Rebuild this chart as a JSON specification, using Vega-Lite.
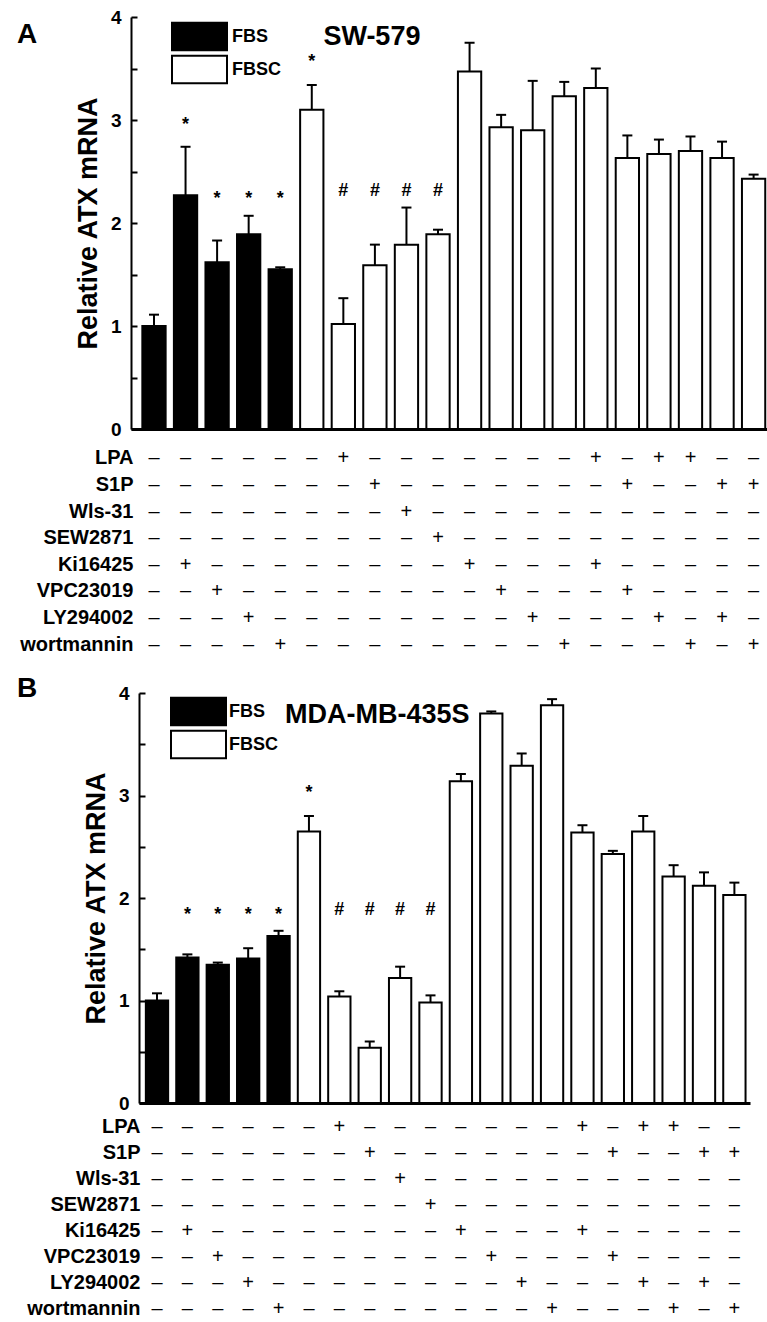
{
  "$schema": "https://vega.github.io/schema/vega-lite/v6.json",
  "background": "white",
  "padding": {"left": 17, "top": 8, "right": 0, "bottom": 0},
  "bounds": "flush",
  "spacing": 0,
  "resolve": {"scale": {"fill": "independent"}, "legend": {"fill": "independent"}},
  "config": {"view": {"stroke": null}, "axis": {"grid": false}, "font": "Liberation Sans"},
  "datasets": {
    "A": [
      {"bar": 0, "serum": "FBS", "value": 1.00, "upper": 1.11},
      {"bar": 1, "serum": "FBS", "value": 2.27, "upper": 2.74, "sig": "*", "sigY": 2.95},
      {"bar": 2, "serum": "FBS", "value": 1.62, "upper": 1.83, "sig": "*", "sigY": 2.23},
      {"bar": 3, "serum": "FBS", "value": 1.89, "upper": 2.07, "sig": "*", "sigY": 2.23},
      {"bar": 4, "serum": "FBS", "value": 1.55, "upper": 1.57, "sig": "*", "sigY": 2.23},
      {"bar": 5, "serum": "FBSC", "value": 3.10, "upper": 3.34, "sig": "*", "sigY": 3.56},
      {"bar": 6, "serum": "FBSC", "value": 1.02, "upper": 1.27, "sig": "#", "sigY": 2.31},
      {"bar": 7, "serum": "FBSC", "value": 1.59, "upper": 1.79, "sig": "#", "sigY": 2.31},
      {"bar": 8, "serum": "FBSC", "value": 1.79, "upper": 2.15, "sig": "#", "sigY": 2.31},
      {"bar": 9, "serum": "FBSC", "value": 1.89, "upper": 1.935, "sig": "#", "sigY": 2.31},
      {"bar": 10, "serum": "FBSC", "value": 3.47, "upper": 3.75},
      {"bar": 11, "serum": "FBSC", "value": 2.93, "upper": 3.05},
      {"bar": 12, "serum": "FBSC", "value": 2.90, "upper": 3.38},
      {"bar": 13, "serum": "FBSC", "value": 3.23, "upper": 3.37},
      {"bar": 14, "serum": "FBSC", "value": 3.31, "upper": 3.50},
      {"bar": 15, "serum": "FBSC", "value": 2.63, "upper": 2.85},
      {"bar": 16, "serum": "FBSC", "value": 2.67, "upper": 2.81},
      {"bar": 17, "serum": "FBSC", "value": 2.70, "upper": 2.84},
      {"bar": 18, "serum": "FBSC", "value": 2.63, "upper": 2.79},
      {"bar": 19, "serum": "FBSC", "value": 2.43, "upper": 2.47}
    ],
    "B": [
      {"bar": 0, "serum": "FBS", "value": 1.00, "upper": 1.07},
      {"bar": 1, "serum": "FBS", "value": 1.42, "upper": 1.45, "sig": "*", "sigY": 1.83},
      {"bar": 2, "serum": "FBS", "value": 1.35, "upper": 1.37, "sig": "*", "sigY": 1.83},
      {"bar": 3, "serum": "FBS", "value": 1.41, "upper": 1.51, "sig": "*", "sigY": 1.83},
      {"bar": 4, "serum": "FBS", "value": 1.63, "upper": 1.68, "sig": "*", "sigY": 1.83},
      {"bar": 5, "serum": "FBSC", "value": 2.65, "upper": 2.80, "sig": "*", "sigY": 3.02},
      {"bar": 6, "serum": "FBSC", "value": 1.04, "upper": 1.09, "sig": "#", "sigY": 1.88},
      {"bar": 7, "serum": "FBSC", "value": 0.54, "upper": 0.60, "sig": "#", "sigY": 1.88},
      {"bar": 8, "serum": "FBSC", "value": 1.22, "upper": 1.33, "sig": "#", "sigY": 1.88},
      {"bar": 9, "serum": "FBSC", "value": 0.98, "upper": 1.05, "sig": "#", "sigY": 1.88},
      {"bar": 10, "serum": "FBSC", "value": 3.14, "upper": 3.21},
      {"bar": 11, "serum": "FBSC", "value": 3.80, "upper": 3.82},
      {"bar": 12, "serum": "FBSC", "value": 3.29, "upper": 3.41},
      {"bar": 13, "serum": "FBSC", "value": 3.88, "upper": 3.94},
      {"bar": 14, "serum": "FBSC", "value": 2.64, "upper": 2.71},
      {"bar": 15, "serum": "FBSC", "value": 2.43, "upper": 2.46},
      {"bar": 16, "serum": "FBSC", "value": 2.65, "upper": 2.80},
      {"bar": 17, "serum": "FBSC", "value": 2.21, "upper": 2.32},
      {"bar": 18, "serum": "FBSC", "value": 2.12, "upper": 2.25},
      {"bar": 19, "serum": "FBSC", "value": 2.03, "upper": 2.15}
    ],
    "T": [
      {"bar": 0, "LPA": "–", "S1P": "–", "Wls-31": "–", "SEW2871": "–", "Ki16425": "–", "VPC23019": "–", "LY294002": "–", "wortmannin": "–"},
      {"bar": 1, "LPA": "–", "S1P": "–", "Wls-31": "–", "SEW2871": "–", "Ki16425": "+", "VPC23019": "–", "LY294002": "–", "wortmannin": "–"},
      {"bar": 2, "LPA": "–", "S1P": "–", "Wls-31": "–", "SEW2871": "–", "Ki16425": "–", "VPC23019": "+", "LY294002": "–", "wortmannin": "–"},
      {"bar": 3, "LPA": "–", "S1P": "–", "Wls-31": "–", "SEW2871": "–", "Ki16425": "–", "VPC23019": "–", "LY294002": "+", "wortmannin": "–"},
      {"bar": 4, "LPA": "–", "S1P": "–", "Wls-31": "–", "SEW2871": "–", "Ki16425": "–", "VPC23019": "–", "LY294002": "–", "wortmannin": "+"},
      {"bar": 5, "LPA": "–", "S1P": "–", "Wls-31": "–", "SEW2871": "–", "Ki16425": "–", "VPC23019": "–", "LY294002": "–", "wortmannin": "–"},
      {"bar": 6, "LPA": "+", "S1P": "–", "Wls-31": "–", "SEW2871": "–", "Ki16425": "–", "VPC23019": "–", "LY294002": "–", "wortmannin": "–"},
      {"bar": 7, "LPA": "–", "S1P": "+", "Wls-31": "–", "SEW2871": "–", "Ki16425": "–", "VPC23019": "–", "LY294002": "–", "wortmannin": "–"},
      {"bar": 8, "LPA": "–", "S1P": "–", "Wls-31": "+", "SEW2871": "–", "Ki16425": "–", "VPC23019": "–", "LY294002": "–", "wortmannin": "–"},
      {"bar": 9, "LPA": "–", "S1P": "–", "Wls-31": "–", "SEW2871": "+", "Ki16425": "–", "VPC23019": "–", "LY294002": "–", "wortmannin": "–"},
      {"bar": 10, "LPA": "–", "S1P": "–", "Wls-31": "–", "SEW2871": "–", "Ki16425": "+", "VPC23019": "–", "LY294002": "–", "wortmannin": "–"},
      {"bar": 11, "LPA": "–", "S1P": "–", "Wls-31": "–", "SEW2871": "–", "Ki16425": "–", "VPC23019": "+", "LY294002": "–", "wortmannin": "–"},
      {"bar": 12, "LPA": "–", "S1P": "–", "Wls-31": "–", "SEW2871": "–", "Ki16425": "–", "VPC23019": "–", "LY294002": "+", "wortmannin": "–"},
      {"bar": 13, "LPA": "–", "S1P": "–", "Wls-31": "–", "SEW2871": "–", "Ki16425": "–", "VPC23019": "–", "LY294002": "–", "wortmannin": "+"},
      {"bar": 14, "LPA": "+", "S1P": "–", "Wls-31": "–", "SEW2871": "–", "Ki16425": "+", "VPC23019": "–", "LY294002": "–", "wortmannin": "–"},
      {"bar": 15, "LPA": "–", "S1P": "+", "Wls-31": "–", "SEW2871": "–", "Ki16425": "–", "VPC23019": "+", "LY294002": "–", "wortmannin": "–"},
      {"bar": 16, "LPA": "+", "S1P": "–", "Wls-31": "–", "SEW2871": "–", "Ki16425": "–", "VPC23019": "–", "LY294002": "+", "wortmannin": "–"},
      {"bar": 17, "LPA": "+", "S1P": "–", "Wls-31": "–", "SEW2871": "–", "Ki16425": "–", "VPC23019": "–", "LY294002": "–", "wortmannin": "+"},
      {"bar": 18, "LPA": "–", "S1P": "+", "Wls-31": "–", "SEW2871": "–", "Ki16425": "–", "VPC23019": "–", "LY294002": "+", "wortmannin": "–"},
      {"bar": 19, "LPA": "–", "S1P": "+", "Wls-31": "–", "SEW2871": "–", "Ki16425": "–", "VPC23019": "–", "LY294002": "–", "wortmannin": "+"}
    ]
  },
  "vconcat": [
    {
      "width": 636,
      "height": 412,
      "title": {"text": "A", "anchor": "start", "frame": "group", "orient": "top", "dx": -114, "offset": -63.4, "baseline": "alphabetic", "fontSize": 28, "fontWeight": "bold", "font": "Liberation Sans", "color": "black"},
      "encoding": {
        "x": {
          "field": "bar", "type": "ordinal",
          "scale": {"type": "band", "domain": [0,1,2,3,4,5,6,7,8,9,10,11,12,13,14,15,16,17,18,19], "range": [0, 636], "paddingInner": 0.262, "paddingOuter": 0.2075, "align": 0.866},
          "axis": {"title": null, "labels": false, "ticks": false, "domain": true, "domainColor": "black", "domainWidth": 2.8, "grid": false}
        }
      },
      "layer": [
        {
          "data": {"name": "A"},
          "mark": {"type": "bar", "stroke": "black", "strokeWidth": 2},
          "encoding": {
            "y": {
              "field": "value", "type": "quantitative", "title": "Relative ATX mRNA",
              "scale": {"domain": [0, 4], "nice": false},
              "axis": {
                "title": "Relative ATX mRNA", "titleFont": "Liberation Sans", "titleFontSize": 27, "titleFontWeight": "bold", "titleColor": "black", "titlePadding": 8,
                "values": [0, 0.5, 1, 1.5, 2, 2.5, 3, 3.5, 4],
                "labelExpr": "datum.value % 1 === 0 ? format(datum.value, 'd') : ''",
                "labelFont": "Liberation Sans", "labelFontSize": 19, "labelFontWeight": "bold", "labelColor": "black", "labelPadding": 16,
                "labelFlush": false, "labelOverlap": false,
                "tickSize": -6,
                "tickWidth": 2, "tickColor": "black", "domainColor": "black", "domainWidth": 2, "grid": false
              }
            },
            "fill": {
              "field": "serum", "type": "nominal",
              "scale": {"domain": ["FBS", "FBSC"], "range": ["#000000", "#ffffff"]},
              "legend": {"title": null, "orient": "none", "legendX": 40, "legendY": 4, "padding": 0, "rowPadding": 2, "clipHeight": 31, "symbolType": "M-1,-0.5H1V0.5H-1Z", "symbolSize": 3025, "symbolStrokeColor": "black", "symbolStrokeWidth": 2, "symbolOpacity": 1, "labelFont": "Liberation Sans", "labelFontSize": 18, "labelFontWeight": "bold", "labelColor": "black", "labelOffset": 4}
            }
          }
        },
        {
          "data": {"name": "A"},
          "mark": {"type": "rule", "stroke": "black", "strokeWidth": 2},
          "encoding": {
            "y": {"field": "value", "type": "quantitative", "title": "Relative ATX mRNA", "scale": {"domain": [0, 4], "nice": false}},
            "y2": {"field": "upper"}
          }
        },
        {
          "data": {"name": "A"},
          "mark": {"type": "tick", "color": "black", "thickness": 2, "size": 10, "opacity": 1},
          "encoding": {
            "y": {"field": "upper", "type": "quantitative", "title": "Relative ATX mRNA", "scale": {"domain": [0, 4], "nice": false}}
          }
        },
        {
          "data": {"name": "A"},
          "transform": [{"filter": "datum.sig != null"}],
          "mark": {"type": "text", "font": "Liberation Sans", "fontSize": 18, "fontWeight": "bold", "color": "black", "baseline": "middle"},
          "encoding": {
            "y": {"field": "sigY", "type": "quantitative", "title": "Relative ATX mRNA", "scale": {"domain": [0, 4], "nice": false}},
            "text": {"field": "sig"}
          }
        },
        {
          "data": {"values": [{"bar": 5, "name": "SW-579", "pos": 3.73}]},
          "mark": {"type": "text", "align": "left", "baseline": "alphabetic", "font": "Liberation Sans", "fontSize": 27, "fontWeight": "bold", "color": "black"},
          "encoding": {
            "x": {"field": "bar", "type": "ordinal", "bandPosition": 1},
            "y": {"field": "pos", "type": "quantitative", "title": "Relative ATX mRNA", "scale": {"domain": [0, 4], "nice": false}},
            "text": {"field": "name"}
          }
        }
      ]
    },
    {
      "width": 636,
      "height": 264,
      "data": {"name": "T"},
      "transform": [{"fold": ["LPA", "S1P", "Wls-31", "SEW2871", "Ki16425", "VPC23019", "LY294002", "wortmannin"], "as": ["agent", "sign"]}],
      "mark": {"type": "text", "font": "Liberation Sans", "fontSize": 20, "color": "black", "baseline": "middle"},
      "encoding": {
        "x": {
          "field": "bar", "type": "ordinal",
          "scale": {"type": "band", "domain": [0,1,2,3,4,5,6,7,8,9,10,11,12,13,14,15,16,17,18,19], "range": [0, 636], "paddingInner": 0.262, "paddingOuter": 0.2075, "align": 0.866},
          "axis": null
        },
        "y": {
          "field": "agent", "type": "nominal",
          "scale": {"type": "band", "domain": ["LPA", "S1P", "Wls-31", "SEW2871", "Ki16425", "VPC23019", "LY294002", "wortmannin"], "range": [16.2, 228.8], "paddingInner": 0, "paddingOuter": 0},
          "axis": {"title": null, "domain": false, "ticks": false, "labelPadding": -2, "labelFont": "Liberation Sans", "labelFontSize": 20, "labelFontWeight": "bold", "labelColor": "black", "grid": false}
        },
        "text": {"field": "sign"}
      }
    },
    {
      "width": 619,
      "height": 410,
      "title": {"text": "B", "anchor": "start", "frame": "group", "orient": "top", "dx": -114, "offset": -41, "baseline": "alphabetic", "fontSize": 28, "fontWeight": "bold", "font": "Liberation Sans", "color": "black"},
      "encoding": {
        "x": {
          "field": "bar", "type": "ordinal",
          "scale": {"type": "band", "domain": [0,1,2,3,4,5,6,7,8,9,10,11,12,13,14,15,16,17,18,19], "range": [8, 619], "paddingInner": 0.266, "paddingOuter": 0.186, "align": 0.606},
          "axis": {"title": null, "labels": false, "ticks": false, "domain": true, "domainColor": "black", "domainWidth": 2.8, "grid": false}
        }
      },
      "layer": [
        {
          "data": {"name": "B"},
          "mark": {"type": "bar", "stroke": "black", "strokeWidth": 2},
          "encoding": {
            "y": {
              "field": "value", "type": "quantitative", "title": "Relative ATX mRNA",
              "scale": {"domain": [0, 4], "nice": false},
              "axis": {
                "offset": -8,
                "title": "Relative ATX mRNA", "titleFont": "Liberation Sans", "titleFontSize": 27, "titleFontWeight": "bold", "titleColor": "black", "titlePadding": 8,
                "values": [0, 0.5, 1, 1.5, 2, 2.5, 3, 3.5, 4],
                "labelExpr": "datum.value % 1 === 0 ? format(datum.value, 'd') : ''",
                "labelFont": "Liberation Sans", "labelFontSize": 19, "labelFontWeight": "bold", "labelColor": "black", "labelPadding": 16,
                "labelFlush": false, "labelOverlap": false,
                "tickSize": -6,
                "tickWidth": 2, "tickColor": "black", "domainColor": "black", "domainWidth": 2, "grid": false
              }
            },
            "fill": {
              "field": "serum", "type": "nominal",
              "scale": {"domain": ["FBS", "FBSC"], "range": ["#000000", "#ffffff"]},
              "legend": {"title": null, "orient": "none", "legendX": 39, "legendY": 3, "padding": 0, "rowPadding": 2, "clipHeight": 31, "symbolType": "M-1,-0.5H1V0.5H-1Z", "symbolSize": 3025, "symbolStrokeColor": "black", "symbolStrokeWidth": 2, "symbolOpacity": 1, "labelFont": "Liberation Sans", "labelFontSize": 18, "labelFontWeight": "bold", "labelColor": "black", "labelOffset": 2}
            }
          }
        },
        {
          "data": {"name": "B"},
          "mark": {"type": "rule", "stroke": "black", "strokeWidth": 2},
          "encoding": {
            "y": {"field": "value", "type": "quantitative", "title": "Relative ATX mRNA", "scale": {"domain": [0, 4], "nice": false}},
            "y2": {"field": "upper"}
          }
        },
        {
          "data": {"name": "B"},
          "mark": {"type": "tick", "color": "black", "thickness": 2, "size": 10, "opacity": 1},
          "encoding": {
            "y": {"field": "upper", "type": "quantitative", "title": "Relative ATX mRNA", "scale": {"domain": [0, 4], "nice": false}}
          }
        },
        {
          "data": {"name": "B"},
          "transform": [{"filter": "datum.sig != null"}],
          "mark": {"type": "text", "font": "Liberation Sans", "fontSize": 18, "fontWeight": "bold", "color": "black", "baseline": "middle"},
          "encoding": {
            "y": {"field": "sigY", "type": "quantitative", "title": "Relative ATX mRNA", "scale": {"domain": [0, 4], "nice": false}},
            "text": {"field": "sig"}
          }
        },
        {
          "data": {"values": [{"bar": 4, "name": "MDA-MB-435S", "pos": 3.71}]},
          "mark": {"type": "text", "align": "left", "baseline": "alphabetic", "font": "Liberation Sans", "fontSize": 27, "fontWeight": "bold", "color": "black"},
          "encoding": {
            "x": {"field": "bar", "type": "ordinal", "bandPosition": 0.79},
            "y": {"field": "pos", "type": "quantitative", "title": "Relative ATX mRNA", "scale": {"domain": [0, 4], "nice": false}},
            "text": {"field": "name"}
          }
        }
      ]
    },
    {
      "width": 619,
      "height": 218.6,
      "data": {"name": "T"},
      "transform": [{"fold": ["LPA", "S1P", "Wls-31", "SEW2871", "Ki16425", "VPC23019", "LY294002", "wortmannin"], "as": ["agent", "sign"]}],
      "mark": {"type": "text", "font": "Liberation Sans", "fontSize": 20, "color": "black", "baseline": "middle"},
      "encoding": {
        "x": {
          "field": "bar", "type": "ordinal",
          "scale": {"type": "band", "domain": [0,1,2,3,4,5,6,7,8,9,10,11,12,13,14,15,16,17,18,19], "range": [8, 619], "paddingInner": 0.266, "paddingOuter": 0.186, "align": 0.606},
          "axis": null
        },
        "y": {
          "field": "agent", "type": "nominal",
          "scale": {"type": "band", "domain": ["LPA", "S1P", "Wls-31", "SEW2871", "Ki16425", "VPC23019", "LY294002", "wortmannin"], "range": [11.5, 218.6], "paddingInner": 0, "paddingOuter": 0},
          "axis": {"title": null, "domain": false, "ticks": false, "labelPadding": -9, "labelFont": "Liberation Sans", "labelFontSize": 20, "labelFontWeight": "bold", "labelColor": "black", "grid": false}
        },
        "text": {"field": "sign"}
      }
    }
  ]
}
